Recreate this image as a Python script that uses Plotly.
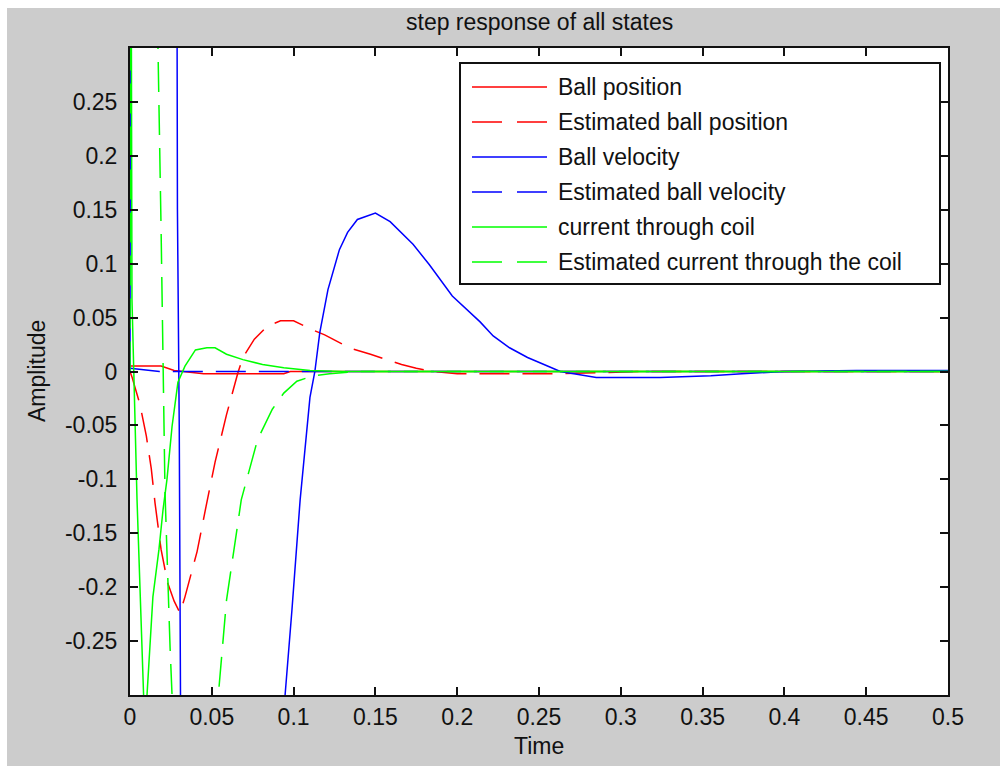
import plotly.graph_objects as go

# ---- step response data (time in s, amplitude) ----
t_pos = [0, 0.019, 0.027, 0.045, 0.094, 0.098, 0.5]
ball_position = [0.005, 0.005, 0.001, -0.002, -0.002, 0.0, 0.0]

t_pos_est = [0, 0.0012, 0.006, 0.010, 0.013, 0.0153, 0.019, 0.023, 0.027, 0.0306,
             0.0336, 0.041, 0.0465, 0.052, 0.059, 0.066, 0.069, 0.076, 0.084, 0.092,
             0.100, 0.111, 0.119, 0.134, 0.147, 0.166, 0.175, 0.185, 0.200, 0.265,
             0.290, 0.310, 0.5]
est_ball_position = [0, -0.005, -0.030, -0.060, -0.090, -0.122, -0.165, -0.196, -0.213, -0.224,
                     -0.209, -0.167, -0.125, -0.084, -0.040, -0.001, 0.013, 0.030, 0.042, 0.047,
                     0.047, 0.039, 0.034, 0.022, 0.016, 0.0065, 0.003, 0.0, -0.002, -0.002,
                     -0.001, 0.0, 0.0]

t_vel = [0, 0.0008, 0.028, 0.0290, 0.0301, 0.0312, 0.033, 0.045, 0.060, 0.085,
         0.0948, 0.099, 0.104, 0.110, 0.113, 0.116, 0.121, 0.128, 0.133, 0.139,
         0.150, 0.159, 0.173, 0.183, 0.197, 0.214, 0.222, 0.232, 0.243, 0.257,
         0.263, 0.275, 0.285, 0.324, 0.355, 0.374, 0.400, 0.444, 0.5]
ball_velocity = [0, 0.9, 0.9, 0.15, -0.05, -0.35, -1.0, -1.3, -1.2, -0.6,
                 -0.3, -0.221, -0.119, -0.024, 0.0, 0.036, 0.076, 0.113, 0.129, 0.141,
                 0.147, 0.139, 0.118, 0.099, 0.070, 0.046, 0.033, 0.022, 0.013, 0.004,
                 0.0, -0.003, -0.0055, -0.0055, -0.004, -0.002, 0.0, 0.001, 0.001]

t_vel_est = [0, 0.010, 0.018, 0.5]
est_ball_velocity = [0.003, 0.001, 0.0, 0.0]

t_cur = [0, 0.0012, 0.0043, 0.0073, 0.008, 0.0092, 0.0104, 0.0122, 0.014, 0.0177,
         0.0202, 0.0226, 0.0257, 0.0293, 0.0336, 0.040, 0.047, 0.052, 0.059, 0.069,
         0.081, 0.094, 0.110, 0.130, 0.5]
coil_current = [0.9, 0.067, -0.119, -0.252, -0.3, -0.34, -0.3, -0.249, -0.209, -0.165,
                -0.128, -0.100, -0.051, -0.010, 0.005, 0.020, 0.022, 0.022, 0.016, 0.011,
                0.0065, 0.0035, 0.001, 0.0, 0.0]

t_cur_est = [0, 0.001, 0.010, 0.0171, 0.019, 0.020, 0.0214, 0.0245, 0.0257, 0.040,
             0.054, 0.059, 0.063, 0.066, 0.068, 0.071, 0.078, 0.087, 0.094, 0.102,
             0.112, 0.122, 0.140, 0.5]
est_coil_current = [0, 0.9, 1.2, 0.3, 0.132, 0.036, -0.112, -0.256, -0.3, -0.6,
                    -0.3, -0.212, -0.173, -0.140, -0.119, -0.102, -0.063, -0.035, -0.020, -0.009,
                    -0.004, -0.002, 0.0, 0.0]

series_names = ["Ball position", "Estimated ball position", "Ball velocity",
                "Estimated ball velocity", "current through coil",
                "Estimated current through the coil"]

x_ticks = [0, 0.05, 0.1, 0.15, 0.2, 0.25, 0.3, 0.35, 0.4, 0.45, 0.5]
x_tick_text = ["0", "0.05", "0.1", "0.15", "0.2", "0.25", "0.3", "0.35", "0.4", "0.45", "0.5"]
y_ticks = [-0.25, -0.2, -0.15, -0.1, -0.05, 0, 0.05, 0.1, 0.15, 0.2, 0.25]
y_tick_text = ["-0.25", "-0.2", "-0.15", "-0.1", "-0.05", "0", "0.05", "0.1", "0.15", "0.2", "0.25"]

# ---- styling ----
W, H = 1000, 766
ML, MR, MT, MB = 130, 52, 48, 71
FONT = "Liberation Sans, Arial, sans-serif"
TXT = "#111111"
FS = 23
DASH = "30px,13px"

styles = [("#ff0000", "solid"), ("#ff0000", DASH), ("#0000ff", "solid"),
          ("#0000ff", DASH), ("#00ff00", "solid"), ("#00ff00", DASH)]
data = [(t_pos, ball_position), (t_pos_est, est_ball_position), (t_vel, ball_velocity),
        (t_vel_est, est_ball_velocity), (t_cur, coil_current), (t_cur_est, est_coil_current)]

pw = W - ML - MR
ph = H - MT - MB


def px_x(px):
    return (px - ML) / pw


def px_y(py):
    return (H - MB - py) / ph


fig = go.Figure()
for name, (tt, yy), (col, dash) in zip(series_names, data, styles):
    fig.add_trace(go.Scatter(x=tt, y=yy, mode="lines", name=name, showlegend=False,
                             line=dict(color=col, width=1.5, dash=dash)))

shapes = []
annotations = []

# white strips along the top and left edge of the window
shapes.append(dict(type="rect", xref="paper", yref="paper", x0=px_x(0), x1=px_x(W),
                   y0=px_y(8), y1=px_y(0), fillcolor="white", line_width=0, layer="above"))
shapes.append(dict(type="rect", xref="paper", yref="paper", x0=px_x(0), x1=px_x(7),
                   y0=px_y(H), y1=px_y(0), fillcolor="white", line_width=0, layer="above"))

# legend box
shapes.append(dict(type="rect", xref="paper", yref="paper", x0=px_x(460), x1=px_x(940),
                   y0=px_y(284), y1=px_y(63), fillcolor="white",
                   line=dict(color="#111111", width=2), layer="above"))
row_y = [87, 122, 157, 192, 227, 262]
for name, (col, dash), ry in zip(series_names, styles, row_y):
    shapes.append(dict(type="line", xref="paper", yref="paper", x0=px_x(472), x1=px_x(547),
                       y0=px_y(ry), y1=px_y(ry),
                       line=dict(color=col, width=1.5, dash="30px,15px" if dash != "solid" else "solid"),
                       layer="above"))
    annotations.append(dict(text=name, xref="paper", yref="paper", x=px_x(556), y=px_y(ry),
                            xanchor="left", yanchor="middle", showarrow=False,
                            font=dict(family=FONT, size=FS, color=TXT)))

# title and axis labels
annotations.append(dict(text="step response of all states", xref="paper", yref="paper",
                        x=0.5, y=px_y(22), xanchor="center", yanchor="middle", showarrow=False,
                        font=dict(family=FONT, size=FS, color=TXT)))
annotations.append(dict(text="Time", xref="paper", yref="paper",
                        x=0.5, y=px_y(746), xanchor="center", yanchor="middle", showarrow=False,
                        font=dict(family=FONT, size=FS, color=TXT)))
annotations.append(dict(text="Amplitude", xref="paper", yref="paper", textangle=-90,
                        x=px_x(37), y=px_y(371), xanchor="center", yanchor="middle", showarrow=False,
                        font=dict(family=FONT, size=FS, color=TXT)))

axis_common = dict(showline=True, linecolor="#111111", linewidth=2, mirror="ticks",
                   ticks="inside", ticklen=8, tickwidth=1.5, tickcolor="#111111",
                   showgrid=False, zeroline=False,
                   tickfont=dict(family=FONT, size=FS, color=TXT))

fig.update_layout(
    width=W, height=H,
    margin=dict(l=ML, r=MR, t=MT, b=MB),
    paper_bgcolor="#cccccc",
    plot_bgcolor="white",
    showlegend=False,
    xaxis=dict(range=[0, 0.5], tickvals=x_ticks, ticktext=x_tick_text,
               ticklabelstandoff=0, **axis_common),
    yaxis=dict(range=[-0.3, 0.3], tickvals=y_ticks, ticktext=y_tick_text,
               ticklabelstandoff=6, **axis_common),
    shapes=shapes,
    annotations=annotations,
)

fig.write_html("out.html")
